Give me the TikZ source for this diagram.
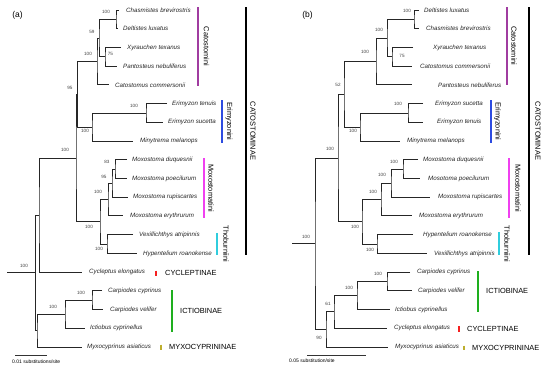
\documentclass[tikz,border=0pt]{standalone}
\usepackage{fontspec}
\setmainfont{Liberation Sans}

\definecolor{catcol}{HTML}{A03CA0}
\definecolor{erycol}{HTML}{2D4BE0}
\definecolor{moxcol}{HTML}{F040F0}
\definecolor{thocol}{HTML}{30CDDD}
\definecolor{ictcol}{HTML}{1EAF1E}
\definecolor{cyccol}{HTML}{F52020}
\definecolor{myxcol}{HTML}{BDAE2E}

\begin{document}
\begin{tikzpicture}[
  x=1pt, y=-1pt,
  branch/.style={draw=black!85, line width=0.9pt},
  tip/.style={anchor=west, inner sep=0pt, text=black!85, font=\fontsize{6.2}{7}\selectfont\itshape},
  boot/.style={inner sep=0pt, text=black!75, font=\fontsize{4.6}{5}\selectfont},
  bar/.style={line width=1.8pt},
  tribe/.style={rotate=-90, inner sep=0pt, font=\fontsize{7.4}{8}\selectfont},
  subfam/.style={anchor=west, inner sep=0pt, font=\fontsize{7.4}{8}\selectfont},
  panel/.style={inner sep=0pt, font=\fontsize{8.5}{9}\selectfont},
  scalebar/.style={draw=black!80, line width=0.9pt},
  scaletext/.style={anchor=west, inner sep=0pt, font=\fontsize{5}{6}\selectfont}
]
\useasboundingbox[fill=white] (0,0) rectangle (550,370);

% ---------------- (a) ----------------
\node[panel] (pa) at (17.5,15) {(a)};

\node[tip] (a-chas) at (126,10.0) {Chasmistes brevirostris};  \coordinate (a-chas-e) at (119,10.0);
\node[tip] (a-delt) at (123,28.7) {Deltistes luxatus};        \coordinate (a-delt-e) at (118,28.7);
\node[tip] (a-xyra) at (127,47.4) {Xyrauchen texanus};        \coordinate (a-xyra-e) at (121,47.4);
\node[tip] (a-pant) at (123,66.2) {Pantosteus nebuliferus};   \coordinate (a-pant-e) at (117,66.2);
\node[tip] (a-cato) at (115,84.9) {Catostomus commersonii};   \coordinate (a-cato-e) at (109,84.9);
\node[tip] (a-eten) at (172,103.6) {Erimyzon tenuis};         \coordinate (a-eten-e) at (167,103.6);
\node[tip] (a-esuc) at (168,122.3) {Erimyzon sucetta};        \coordinate (a-esuc-e) at (163,122.3);
\node[tip] (a-miny) at (140,141.0) {Minytrema melanops};      \coordinate (a-miny-e) at (133,141.0);
\node[tip] (a-mduq) at (132,159.8) {Moxostoma duquesnii};     \coordinate (a-mduq-e) at (127,159.8);
\node[tip] (a-mpoe) at (132,178.5) {Moxostoma poecilurum};    \coordinate (a-mpoe-e) at (127,178.5);
\node[tip] (a-mrup) at (133,197.2) {Moxostoma rupiscartes};   \coordinate (a-mrup-e) at (128,197.2);
\node[tip] (a-mery) at (130,215.9) {Moxostoma erythrurum};    \coordinate (a-mery-e) at (123,215.9);
\node[tip] (a-vexi) at (139,234.6) {Vexillichthys atripinnis}; \coordinate (a-vexi-e) at (133,234.6);
\node[tip] (a-hypn) at (143,253.4) {Hypentelium roanokense};  \coordinate (a-hypn-e) at (137,253.4);
\node[tip] (a-cycl) at (89,272.1) {Cycleptus elongatus};      \coordinate (a-cycl-e) at (82,272.1);
\node[tip] (a-ccyp) at (108,290.8) {Carpiodes cyprinus};      \coordinate (a-ccyp-e) at (102,290.8);
\node[tip] (a-cvel) at (110,309.5) {Carpiodes velifer};       \coordinate (a-cvel-e) at (103,309.5);
\node[tip] (a-icti) at (90,328.2) {Ictiobus cyprinellus};     \coordinate (a-icti-e) at (85,328.2);
\node[tip] (a-myxo) at (87,347.0) {Myxocyprinus asiaticus};   \coordinate (a-myxo-e) at (82,347.0);

\coordinate (a1) at (116,19.4);
\coordinate (a2) at (105,56.8);
\coordinate (a3) at (99,38.1);
\coordinate (a4) at (97,61.5);
\coordinate (a5) at (146,113);
\coordinate (a6) at (92,127);
\coordinate (a7) at (77.5,94.3);
\coordinate (a8) at (115,169.2);
\coordinate (a9) at (112,183.2);
\coordinate (a10) at (108,199.6);
\coordinate (a11) at (107,244);
\coordinate (a12) at (100,221.8);
\coordinate (a13) at (76,158);
\coordinate (a14) at (39,215);
\coordinate (a15) at (92,300.2);
\coordinate (a16) at (65,314.2);
\coordinate (a17) at (37,330.6);
\coordinate (a18) at (35.5,272.8);
\coordinate (a0) at (7,272.8);

\draw[branch] (a-chas-e) -| (a1) |- (a-delt-e);
\draw[branch] (a-xyra-e) -| (a2) |- (a-pant-e);
\draw[branch] (a1) -| (a3) |- (a2);
\draw[branch] (a3) -| (a4) |- (a-cato-e);
\draw[branch] (a-eten-e) -| (a5) |- (a-esuc-e);
\draw[branch] (a5) -| (a6) |- (a-miny-e);
\draw[branch] (a4) -| (a7) |- (a6);
\draw[branch] (a-mduq-e) -| (a8) |- (a-mpoe-e);
\draw[branch] (a8) -| (a9) |- (a-mrup-e);
\draw[branch] (a9) -| (a10) |- (a-mery-e);
\draw[branch] (a-vexi-e) -| (a11) |- (a-hypn-e);
\draw[branch] (a10) -| (a12) |- (a11);
\draw[branch] (a7) -| (a13) |- (a12);
\draw[branch] (a13) -| (a14) |- (a-cycl-e);
\draw[branch] (a-ccyp-e) -| (a15) |- (a-cvel-e);
\draw[branch] (a15) -| (a16) |- (a-icti-e);
\draw[branch] (a16) -| (a17) |- (a-myxo-e);
\draw[branch] (a14) -| (a18) |- (a17);
\draw[branch] (a0) -- (a18);

\node[boot] (a1-bs) at (106,12) {100};
\node[boot] (a2-bs) at (110.5,54) {75};
\node[boot] (a3-bs) at (92,32) {59};
\node[boot] (a4-bs) at (88,54) {100};
\node[boot] (a5-bs) at (134,106) {100};
\node[boot] (a6-bs) at (85,131) {100};
\node[boot] (a7-bs) at (70,88) {95};
\node[boot] (a8-bs) at (107,162) {83};
\node[boot] (a9-bs) at (104,177) {95};
\node[boot] (a10-bs) at (98,192) {100};
\node[boot] (a11-bs) at (99,249) {100};
\node[boot] (a12-bs) at (89,227) {100};
\node[boot] (a13-bs) at (65,150) {100};
\node[boot] (a15-bs) at (81,293) {100};
\node[boot] (a16-bs) at (53,307) {100};
\node[boot] (a18-bs) at (24,266) {100};

% clade bars (a)
\draw[bar, catcol] (198,7) -- (198,86);
\node[tribe] (a-catini) at (206.5,46.5) {Catostomini};
\draw[bar, erycol] (222,100) -- (222,143);
\node[tribe] (a-eryini) at (229,121.5) {Erimyzonini};
\draw[bar, moxcol] (204,158) -- (204,218);
\node[tribe] (a-moxini) at (211,188) {Moxostomatini};
\draw[bar, thocol] (217,233) -- (217,255);
\node[tribe] (a-thoini) at (226,244) {Thoburniini};
\draw[bar, black, line width=2pt] (246,7) -- (246,255);
\node[tribe] (a-catinae) at (253,131) {CATOSTOMINAE};
\draw[bar, cyccol] (156,270.5) -- (156,275.5);
\node[subfam] (a-cycinae) at (165,273) {CYCLEPTINAE};
\draw[bar, ictcol] (172,290) -- (172,332);
\node[subfam] (a-ictinae) at (180,311) {ICTIOBINAE};
\draw[bar, myxcol] (161,344.5) -- (161,349.5);
\node[subfam] (a-myxinae) at (169,347) {MYXOCYPRININAE};

\coordinate (a-sb1) at (15,355);
\coordinate (a-sb2) at (47,355);
\draw[scalebar] (a-sb1) -- (a-sb2);
\node[scaletext] (a-sbt) at (12,362) {0.01 substitutions/site};

% ---------------- (b) ----------------
\node[panel] (pb) at (307.5,15) {(b)};

\node[tip] (b-delt) at (424,10.0) {Deltistes luxatus};        \coordinate (b-delt-e) at (419,10.0);
\node[tip] (b-chas) at (426,28.7) {Chasmistes brevirostris};  \coordinate (b-chas-e) at (419,28.7);
\node[tip] (b-xyra) at (433,47.4) {Xyrauchen texanus};        \coordinate (b-xyra-e) at (413,47.4);
\node[tip] (b-cato) at (420,66.2) {Catostomus commersonii};   \coordinate (b-cato-e) at (412,66.2);
\node[tip] (b-pant) at (438,84.9) {Pantosteus nebuliferus};   \coordinate (b-pant-e) at (412,84.9);
\node[tip] (b-esuc) at (435,103.6) {Erimyzon sucetta};        \coordinate (b-esuc-e) at (423,103.6);
\node[tip] (b-eten) at (437,122.3) {Erimyzon tenuis};         \coordinate (b-eten-e) at (423,122.3);
\node[tip] (b-miny) at (407,141.0) {Minytrema melanops};      \coordinate (b-miny-e) at (400,141.0);
\node[tip] (b-mduq) at (423,159.8) {Moxostoma duquesnii};     \coordinate (b-mduq-e) at (418,159.8);
\node[tip] (b-mpoe) at (428,178.5) {Mosotoma poecilurum};     \coordinate (b-mpoe-e) at (420,178.5);
\node[tip] (b-mrup) at (438,197.2) {Moxostoma rupiscartes};   \coordinate (b-mrup-e) at (430,197.2);
\node[tip] (b-mery) at (419,215.9) {Moxostoma erythrurum};    \coordinate (b-mery-e) at (412,215.9);
\node[tip] (b-hypn) at (423,234.6) {Hypentelium roanokense};  \coordinate (b-hypn-e) at (413,234.6);
\node[tip] (b-vexi) at (434,253.4) {Vexillichthys atripinnis}; \coordinate (b-vexi-e) at (427,253.4);
\node[tip] (b-ccyp) at (417,272.1) {Carpiodes cyprinus};      \coordinate (b-ccyp-e) at (410,272.1);
\node[tip] (b-cvel) at (418,290.8) {Carpiodes velifer};       \coordinate (b-cvel-e) at (412,290.8);
\node[tip] (b-icti) at (395,309.5) {Ictiobus cyprinellus};    \coordinate (b-icti-e) at (390,309.5);
\node[tip] (b-cycl) at (394,328.2) {Cycleptus elongatus};     \coordinate (b-cycl-e) at (387,328.2);
\node[tip] (b-myxo) at (395,347.0) {Myxocyprinus asiaticus};  \coordinate (b-myxo-e) at (388,347.0);

\coordinate (b1) at (414,19.4);
\coordinate (b2) at (392,56.8);
\coordinate (b3) at (387,38.1);
\coordinate (b4) at (376,61.5);
\coordinate (b5) at (408,113);
\coordinate (b6) at (360,127);
\coordinate (b7) at (344,94.3);
\coordinate (b8) at (403,169.2);
\coordinate (b9) at (391,183.2);
\coordinate (b10) at (381,199.6);
\coordinate (b11) at (377,244);
\coordinate (b12) at (362,221.8);
\coordinate (b13) at (338,158);
\coordinate (b14) at (387,281.5);
\coordinate (b15) at (357,295.5);
\coordinate (b16) at (334,311.9);
\coordinate (b17) at (326,329.4);
\coordinate (b18) at (315,243.7);
\coordinate (b0) at (292,243.7);

\draw[branch] (b-delt-e) -| (b1) |- (b-chas-e);
\draw[branch] (b-xyra-e) -| (b2) |- (b-cato-e);
\draw[branch] (b1) -| (b3) |- (b2);
\draw[branch] (b3) -| (b4) |- (b-pant-e);
\draw[branch] (b-esuc-e) -| (b5) |- (b-eten-e);
\draw[branch] (b5) -| (b6) |- (b-miny-e);
\draw[branch] (b4) -| (b7) |- (b6);
\draw[branch] (b-mduq-e) -| (b8) |- (b-mpoe-e);
\draw[branch] (b8) -| (b9) |- (b-mrup-e);
\draw[branch] (b9) -| (b10) |- (b-mery-e);
\draw[branch] (b-hypn-e) -| (b11) |- (b-vexi-e);
\draw[branch] (b10) -| (b12) |- (b11);
\draw[branch] (b7) -| (b13) |- (b12);
\draw[branch] (b-ccyp-e) -| (b14) |- (b-cvel-e);
\draw[branch] (b14) -| (b15) |- (b-icti-e);
\draw[branch] (b15) -| (b16) |- (b-cycl-e);
\draw[branch] (b16) -| (b17) |- (b-myxo-e);
\draw[branch] (b13) -| (b18) |- (b17);
\draw[branch] (b0) -- (b18);

\node[boot] (b1-bs) at (407,11) {100};
\node[boot] (b2-bs) at (402,56) {75};
\node[boot] (b3-bs) at (379,30) {100};
\node[boot] (b4-bs) at (365,52) {100};
\node[boot] (b5-bs) at (398,104) {100};
\node[boot] (b6-bs) at (353,131) {100};
\node[boot] (b7-bs) at (338,85) {52};
\node[boot] (b8-bs) at (394,162) {100};
\node[boot] (b9-bs) at (382,175) {100};
\node[boot] (b10-bs) at (373,192) {100};
\node[boot] (b11-bs) at (370,250) {100};
\node[boot] (b12-bs) at (355,227) {100};
\node[boot] (b13-bs) at (330,149) {100};
\node[boot] (b14-bs) at (378,274) {100};
\node[boot] (b15-bs) at (349,288) {100};
\node[boot] (b16-bs) at (328,304) {61};
\node[boot] (b17-bs) at (319,338) {90};
\node[boot] (b18-bs) at (306,237) {100};

% clade bars (b)
\draw[bar, catcol] (507,7) -- (507,85);
\node[tribe] (b-catini) at (514,46) {Catostomini};
\draw[bar, erycol] (491,100) -- (491,143);
\node[tribe] (b-eryini) at (497.5,121.5) {Erimyzonini};
\draw[bar, moxcol] (509,158) -- (509,218);
\node[tribe] (b-moxini) at (518,188) {Moxostomatini};
\draw[bar, thocol] (499,232) -- (499,255);
\node[tribe] (b-thoini) at (507,244) {Thoburniini};
\draw[bar, black, line width=2pt] (529,7) -- (529,255);
\node[tribe] (b-catinae) at (538,131) {CATOSTOMINAE};
\draw[bar, ictcol] (478,271) -- (478,312);
\node[subfam] (b-ictinae) at (486,291) {ICTIOBINAE};
\draw[bar, cyccol] (459,326) -- (459,332);
\node[subfam] (b-cycinae) at (467,329) {CYCLEPTINAE};
\draw[bar, myxcol] (464,345.5) -- (464,350);
\node[subfam] (b-myxinae) at (472,348) {MYXOCYPRININAE};

\coordinate (b-sb1) at (307,355);
\coordinate (b-sb2) at (366,355);
\draw[scalebar] (b-sb1) -- (b-sb2);
\node[scaletext] (b-sbt) at (289,361) {0.05 substitution/site};
\end{tikzpicture}
\end{document}
